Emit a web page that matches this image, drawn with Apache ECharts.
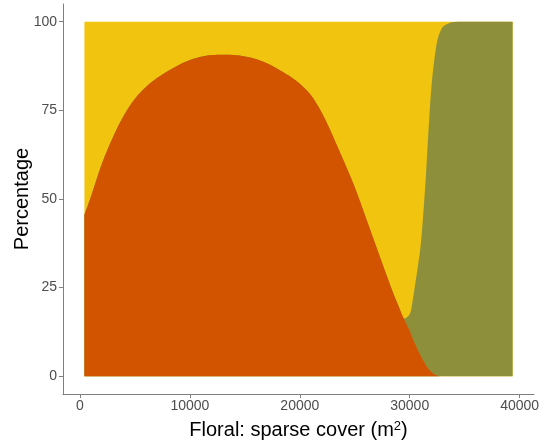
<!DOCTYPE html>
<html>
<head>
<meta charset="utf-8">
<script src="https://cdn.jsdelivr.net/npm/echarts@6/dist/echarts.min.js"></script>
<style>html,body{margin:0;padding:0;background:#fff}#c{width:545px;height:448px}</style>
</head>
<body>
<div id="c"></div>
<script>
var xs = [400, 1000, 2000, 3000, 4000, 5000, 6000, 7000, 8000, 9000, 10000, 11000, 12000, 13000, 14000, 15000, 16000, 17000, 18000, 19000, 20000, 21000, 22000, 23000, 24000, 25000, 26000, 27000, 28000, 28500, 29000, 29500, 30000, 30250, 30500, 30750, 31000, 31250, 31500, 31750, 32000, 32250, 32500, 32750, 33000, 33500, 34000, 35000, 36000, 37000, 38000, 39360];
var orangeVals = [45.5, 50.7, 60, 67.4, 73.6, 78.3, 81.6, 84.1, 86.1, 87.8, 89.2, 90.1, 90.6, 90.7, 90.6, 90.2, 89.5, 88.3, 86.7, 84.8, 82.5, 79.3, 74.3, 67.8, 60.7, 53.3, 44.8, 36.2, 27.6, 23.4, 19.6, 16, 12.8, 10.8, 9, 7.3, 5.8, 4.3, 3, 1.9, 1.1, 0.5, 0.2, 0, 0, 0, 0, 0, 0, 0, 0, 0];
var oliveVals = [0, 0, 0, 0, 0, 0, 0, 0, 0, 0, 0, 0, 0, 0, 0, 0, 0, 0, 0, 0, 0, 0, 0, 0, 0, 0, 0, 0, 0, 0.1, 0.2, 0.3, 4.7, 10.2, 17, 23.7, 31.2, 42.2, 55, 69.6, 81.4, 89, 94.3, 97, 98.5, 99.5, 99.9, 100, 100, 100, 100, 100];
var yellowVals = [54.5, 49.3, 40, 32.6, 26.4, 21.7, 18.4, 15.9, 13.9, 12.2, 10.8, 9.9, 9.4, 9.3, 9.4, 9.8, 10.5, 11.7, 13.3, 15.2, 17.5, 20.7, 25.7, 32.2, 39.3, 46.7, 55.2, 63.8, 72.4, 76.5, 80.2, 83.7, 82.5, 79, 74, 69, 63, 53.5, 42, 28.5, 17.5, 10.5, 5.5, 3, 1.5, 0.5, 0.1, 0, 0, 0, 0, 0];
var xTicks = [0, 10000, 20000, 30000, 40000];
var yTicks = [0, 25, 50, 75, 100];
var seriesNames = ['orange', 'olive', 'yellow'];
var colors = ['#D35400', '#8E8F3A', '#F1C40F'];

// cumulative (stacked) tops, bottom-up: orange, orange+olive, orange+olive+yellow
var allVals = [orangeVals, oliveVals, yellowVals];
var cum = [];
var running = xs.map(function () { return 0; });
allVals.forEach(function (vals) {
  running = running.map(function (r, i) { return r + vals[i]; });
  cum.push(running.slice());
});
function pairs(vals) { return xs.map(function (x, i) { return [x, vals[i]]; }); }

var chart = echarts.init(document.getElementById('c'), null, {renderer: 'canvas'});
var font = '"Liberation Sans", Arial, sans-serif';
var series = [];
for (var k = allVals.length - 1; k >= 0; k--) {
  series.push({
    name: seriesNames[k], type: 'line', smooth: 0.35, symbol: 'none',
    lineStyle: {width: 0}, areaStyle: {color: colors[k], opacity: 1, origin: 'auto'},
    itemStyle: {color: colors[k]},
    data: pairs(cum[k])
  });
}
chart.setOption({
  animation: false,
  grid: {left: 63, right: 11, top: 4, bottom: 54, containLabel: false, outerBoundsMode: 'none'},
  xAxis: {
    type: 'value', min: -1548, max: 41308,
    name: 'Floral: sparse cover (m{sup|2})',
    nameLocation: 'middle', nameGap: 26, nameMoveOverlap: false,
    nameTextStyle: {fontSize: 20, color: '#000', fontFamily: font,
      rich: {sup: {fontSize: 13, color: '#000', fontFamily: font, verticalAlign: 'top', padding: [0, 0, 8, 0]}}},
    splitLine: {show: false},
    axisLine: {onZero: false, lineStyle: {color: '#7f7f7f', width: 1}},
    axisTick: {length: 4, lineStyle: {color: '#7f7f7f'}, customValues: xTicks},
    axisLabel: {fontSize: 14, color: '#4d4d4d', fontFamily: font, margin: 5, customValues: xTicks,
      formatter: function (v) { return String(v); }}
  },
  yAxis: {
    type: 'value', min: -5, max: 105,
    name: 'Percentage', nameLocation: 'middle', nameGap: 31, nameRotate: 90, nameMoveOverlap: false,
    nameTextStyle: {fontSize: 20, color: '#000', fontFamily: font},
    splitLine: {show: false},
    axisLine: {show: true, onZero: false, lineStyle: {color: '#7f7f7f', width: 1}},
    axisTick: {show: true, length: 4, lineStyle: {color: '#7f7f7f'}, customValues: yTicks},
    axisLabel: {fontSize: 14, color: '#4d4d4d', fontFamily: font, margin: 6, customValues: yTicks,
      formatter: function (v) { return String(v); }}
  },
  series: series
});
</script>
</body>
</html>
